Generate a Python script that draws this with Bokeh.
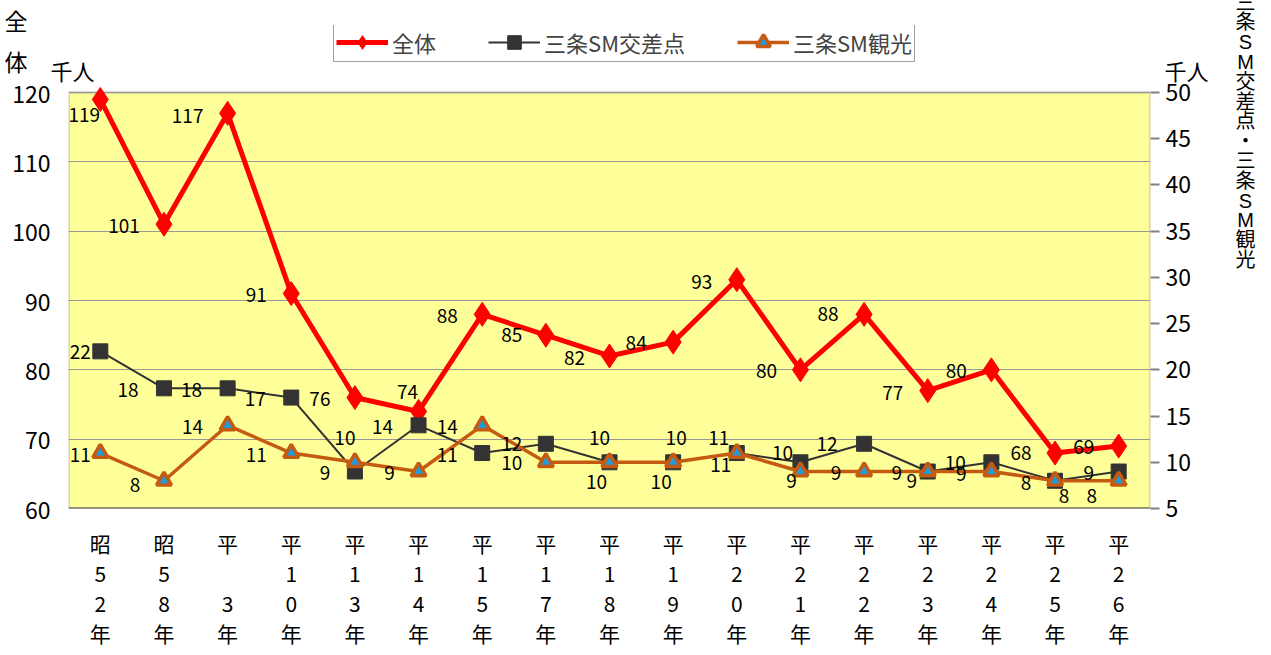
from bokeh.plotting import figure
from bokeh.models import (Range1d, LinearAxis, FixedTicker, FactorRange, Legend, LegendItem,
                          ColumnDataSource, LabelSet, Label, BoxAnnotation, Span)
from bokeh.core.properties import value
from bokeh.embed import file_html
from bokeh.resources import INLINE

# ---------------- data ----------------
categories = ["昭52年", "昭58年", "平3年", "平10年", "平13年", "平14年", "平15年", "平17年", "平18年",
              "平19年", "平20年", "平21年", "平22年", "平23年", "平24年", "平25年", "平26年"]
zentai = [119, 101, 117, 91, 76, 74, 88, 85, 82, 84, 93, 80, 88, 77, 80, 68, 69]
kousaten = [22, 18, 18, 17, 9, 14, 11, 12, 10, 10, 11, 10, 12, 9, 10, 8, 9]
kankou = [11, 8, 14, 11, 10, 9, 14, 10, 10, 10, 11, 9, 9, 9, 9, 8, 8]
left_min, left_max = 60, 120
right_min, right_max = 5, 50
left_ticks = [60, 70, 80, 90, 100, 110, 120]
right_ticks = [5, 10, 15, 20, 25, 30, 35, 40, 45, 50]
series_names = ["全体", "三条SM交差点", "三条SM観光"]

# label placement (pixels, +dy = downward)
zentai_dx = [-16, -40, -40, -35, -35, -11, -35, -34, -35, -37, -35, -34, -36, -35, -35, -34, -35]
zentai_dy = [16, 2, 3, 1, 1, -19, 2, 0, 2, 1, 2, 1, 0, 2, 1, 0, 1]
kousaten_dx = [-20, -36, -36, -36, -30, -36, -35, -34, -10, 3, -18, -18, -37, -31, -36, -29, -30]
kousaten_dy = [1, 2, 2, 1, 1, 2, 2, 0, -24, -24, -15, -9, 0, 1, 1, 2, 1]
kankou_dx = [-20, -29, -35, -35, -10, -29, -35, -34, -13, -12, -16, -9, -28, -16, -30, 9, -27]
kankou_dy = [2, 4, 2, 2, -24, 1, 2, 1, 20, 20, 12, 9, 1, 9, 2, 15, 15]

FONT = "Noto Sans CJK JP"
LFONT = "Liberation Sans, Noto Sans CJK JP"

# geometry: plot area is 416 px tall; the frame reaches further up to hold the legend
PLOT_H = 416
FRAME_H = 483
left_top = left_min + FRAME_H * (left_max - left_min) / PLOT_H
right_top = right_min + FRAME_H * (right_max - right_min) / PLOT_H
TITLE_TICK = 127.5   # where the stacked "全体" axis title sits


def stacked(cat):
    era = cat[0]
    num = cat[1:-1]
    if len(num) == 1:
        num = " " + num
    return "\n".join([era, num[0], num[1], "年"])


factors = [stacked(c) for c in categories]

p = figure(x_range=FactorRange(*factors), y_range=Range1d(left_min, left_top),
           frame_width=1082, frame_height=FRAME_H, title=None,
           min_border_left=68, min_border_right=118, min_border_top=25, min_border_bottom=144,
           output_backend="svg", toolbar_location=None)
p.extra_y_ranges = {"right": Range1d(right_min, right_top)}

p.background_fill_color = "white"
p.border_fill_color = "white"
p.outline_line_color = None

# yellow plot area
p.add_layout(BoxAnnotation(bottom=left_min, top=left_max, fill_color="#FFFF99", fill_alpha=1,
                           line_color="#808080", line_width=3, level="image"))
p.add_layout(Span(location=left_min, dimension="width", line_color="#454545", line_width=2,
                  level="underlay"))

# axes
p.yaxis.ticker = FixedTicker(ticks=left_ticks + [TITLE_TICK])
p.yaxis.major_label_overrides = {TITLE_TICK: "全\u3000\n体\u3000"}
p.yaxis.major_label_text_font = FONT
p.yaxis.major_label_text_font_size = "23px"
p.yaxis.major_label_text_line_height = 1.2
p.yaxis.major_label_text_color = "black"
p.yaxis.major_tick_out = 0
p.yaxis.major_tick_in = 0
p.yaxis.minor_tick_out = 0
p.yaxis.minor_tick_in = 0
p.yaxis.axis_line_color = None
p.yaxis.major_label_standoff = 18

ra = LinearAxis(y_range_name="right", ticker=FixedTicker(ticks=right_ticks))
ra.major_label_text_font = FONT
ra.major_label_text_font_size = "23px"
ra.major_label_text_color = "black"
ra.major_tick_out = 9
ra.major_tick_in = 0
ra.major_tick_line_color = "#808080"
ra.major_tick_line_width = 2
ra.minor_tick_out = 0
ra.minor_tick_in = 0
ra.axis_line_color = None
ra.major_label_standoff = 6
p.add_layout(ra, "right")

p.xaxis.major_label_text_font = FONT
p.xaxis.major_label_text_font_size = "21px"
p.xaxis.major_label_text_color = "black"
p.xaxis.major_label_text_line_height = 1.0
p.xaxis.major_tick_out = 0
p.xaxis.major_tick_in = 0
p.xaxis.axis_line_color = None
p.xaxis.major_label_standoff = 19

p.xgrid.grid_line_color = None
p.ygrid.ticker = FixedTicker(ticks=left_ticks)
p.ygrid.grid_line_color = "#999999"
p.ygrid.grid_line_width = 1

src = ColumnDataSource(dict(cat=factors, zentai=zentai, kousaten=kousaten, kankou=kankou,
                            zdx=zentai_dx, zdy=[-v for v in zentai_dy],
                            kdx=kousaten_dx, kdy=[-v for v in kousaten_dy],
                            tdx=kankou_dx, tdy=[-v for v in kankou_dy],
                            zt=[str(v) for v in zentai], kt=[str(v) for v in kousaten],
                            tt=[str(v) for v in kankou]))

RED = "#FF0000"
DARK = "#333333"
ORANGE = "#C55A11"
BLUE = "#1F9BDE"

l1 = p.line("cat", "zentai", source=src, line_color=RED, line_width=5)
m1 = p.scatter("cat", "zentai", source=src, marker="diamond", size=24, fill_color=RED, line_color=RED)

l2 = p.line("cat", "kousaten", source=src, y_range_name="right", line_color=DARK, line_width=2)
m2 = p.scatter("cat", "kousaten", source=src, y_range_name="right", marker="square", size=15,
               fill_color=DARK, line_color=DARK)

l3 = p.line("cat", "kankou", source=src, y_range_name="right", line_color=ORANGE, line_width=3.5)
m3 = p.scatter("cat", "kankou", source=src, y_range_name="right", marker="triangle", size=15,
               fill_color=BLUE, line_color=ORANGE, line_width=3.5)

lab_kw = dict(source=src, text_font=value(FONT), text_font_size=value("19px"), text_color="black",
              text_align="center", text_baseline="middle")
p.add_layout(LabelSet(x="cat", y="zentai", text="zt", x_offset="zdx", y_offset="zdy", **lab_kw))
p.add_layout(LabelSet(x="cat", y="kousaten", text="kt", x_offset="kdx", y_offset="kdy",
                      y_range_name="right", **lab_kw))
p.add_layout(LabelSet(x="cat", y="kankou", text="tt", x_offset="tdx", y_offset="tdy",
                      y_range_name="right", **lab_kw))

legend = Legend(items=[LegendItem(label=series_names[0], renderers=[l1, m1]),
                       LegendItem(label=series_names[1], renderers=[l2, m2]),
                       LegendItem(label=series_names[2], renderers=[l3, m3])],
                orientation="horizontal", location=(265, 446))
legend.label_text_font = FONT
legend.label_text_font_size = "22px"
legend.glyph_width = 52
legend.glyph_height = 34
legend.label_standoff = 4
legend.spacing = 52
legend.padding = 2
legend.margin = 0
legend.border_line_color = "#404040"
legend.border_line_width = 1.5
legend.background_fill_color = "white"
legend.background_fill_alpha = 1
p.add_layout(legend)

# unit texts and the right axis title (side panels, not clipped)
txt = dict(x_units="screen", y_units="screen", text_font=LFONT, text_color="black",
           text_baseline="middle")
p.add_layout(Label(x=4, y=-47, text="千人", text_font_size="22px", text_align="center", **txt), "above")
p.add_layout(Label(x=-8, y=436, text="千人", text_font_size="22px", text_align="center", **txt), "right")
vt = dict(txt)
vt["text_baseline"] = "top"
p.add_layout(Label(x=7, y=517, text="\n".join("三条SM交差点・三条SM観光"),
                   text_font_size="20px", text_line_height=0.9, text_align="center", **vt), "right")

open("out.html", "w").write(file_html(p, INLINE))
